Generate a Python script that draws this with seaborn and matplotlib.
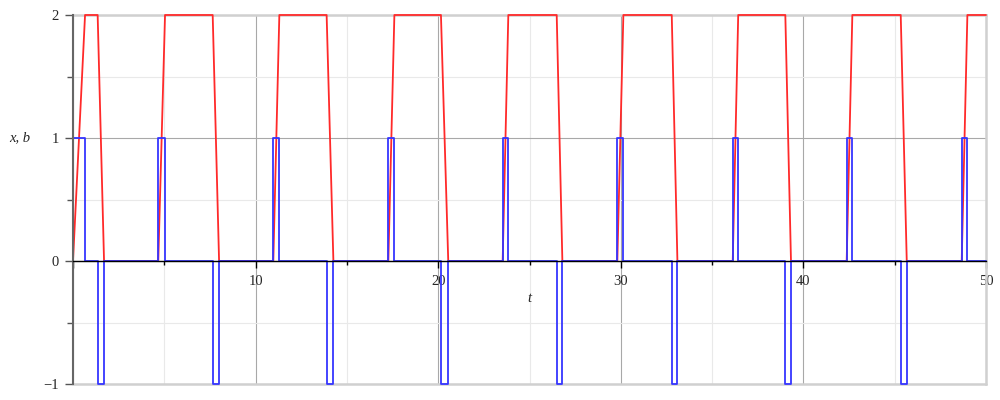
import matplotlib
matplotlib.use("Agg")
import matplotlib.pyplot as plt
from matplotlib.ticker import MultipleLocator, FuncFormatter
import pandas as pd
import seaborn as sns

# ---- data (times in t units) ----
up_start = [0.00, 4.67, 10.97, 17.27, 23.53, 29.81, 36.13, 42.37, 48.67]
up_end = [0.66, 5.04, 11.30, 17.60, 23.84, 30.14, 36.43, 42.68, 48.98]
down_start = [1.35, 7.65, 13.89, 20.15, 26.49, 32.79, 39.01, 45.33]
down_end = [1.70, 8.00, 14.26, 20.55, 26.80, 33.10, 39.32, 45.66]
x_low, x_high = 0, 2
b_up, b_rest, b_down = 1, 0, -1
t_end = 50

# ---- build series ----
events = [(s, e, "up") for s, e in zip(up_start, up_end)] + \
         [(s, e, "down") for s, e in zip(down_start, down_end)]
events.sort()

bt, bv = [], []
xt, xv = [], []
for s, e, kind in events:
    lvl = b_up if kind == "up" else b_down
    bt += [s, s, e, e]
    bv += [b_rest, lvl, lvl, b_rest]
    if kind == "up":
        xt += [s, e]
        xv += [x_low, x_high]
    else:
        xt += [s, e]
        xv += [x_high, x_low]
bt.append(t_end); bv.append(b_rest)
xt.append(t_end); xv.append(x_high)

df_x = pd.DataFrame({"t": xt, "v": xv})
df_b = pd.DataFrame({"t": bt, "v": bv})

# ---- plot ----
sns.set_theme(style="white")
plt.rcParams["font.family"] = ["Liberation Serif", "DejaVu Serif"]

fig, ax = plt.subplots(figsize=(10, 4), dpi=100)
fig.subplots_adjust(left=0.073, right=0.986, bottom=0.04, top=0.9625)

sns.lineplot(data=df_x, x="t", y="v", sort=False, estimator=None,
             color="#ff2a2a", lw=1.3, ax=ax, zorder=3)
sns.lineplot(data=df_b, x="t", y="v", sort=False, estimator=None,
             color="#3535ff", lw=1.3, ax=ax, zorder=4)
for ln in ax.lines:
    ln.set_clip_on(False)

ax.set_xlim(0, t_end)
ax.set_ylim(-1, 2)

ax.xaxis.set_major_locator(MultipleLocator(10))
ax.xaxis.set_minor_locator(MultipleLocator(5))
ax.yaxis.set_major_locator(MultipleLocator(1))
ax.yaxis.set_minor_locator(MultipleLocator(0.5))
ax.xaxis.set_major_formatter(FuncFormatter(lambda v, p: "" if abs(v) < 1e-9 else f"{v:g}"))
ax.yaxis.set_major_formatter(FuncFormatter(lambda v, p: f"{v:g}".replace("-", "\u2212")))

ax.set_axisbelow(True)
ax.grid(which="major", color="#a8a8a8", lw=0.8)
ax.grid(which="minor", color="#e9e9e9", lw=0.8)

for side in ("top", "right"):
    ax.spines[side].set_color("#d0d0d0")
    ax.spines[side].set_linewidth(1.8)
ax.spines["left"].set_color("#666666")
ax.spines["left"].set_linewidth(1.5)
ax.spines["left"].set_zorder(5)
ax.spines["bottom"].set_position(("data", 0))
ax.spines["bottom"].set_color("black")
ax.spines["bottom"].set_linewidth(1.0)
ax.spines["bottom"].set_zorder(5)
ax.axhline(-1, color="#d0d0d0", lw=1.8, clip_on=False, zorder=1.5)

ax.tick_params(axis="x", which="both", bottom=True, direction="out",
               color="black", labelsize=10.5, pad=5, width=1)
ax.tick_params(axis="x", which="major", length=5)
ax.tick_params(axis="x", which="minor", length=3)
ax.tick_params(axis="y", which="both", left=True, direction="out",
               color="#555555", labelsize=10.5, pad=4, width=1)
ax.tick_params(axis="y", which="major", length=6)
ax.tick_params(axis="y", which="minor", length=4)

ax.set_xlabel("t", fontstyle="italic", fontsize=10.5)
ax.xaxis.label.set_va("center")
ax.xaxis.set_label_coords(0.5, 0.233)
ax.set_ylabel("x, b", fontstyle="italic", fontsize=10.5, rotation=0,
              ha="center", va="center")
ax.yaxis.set_label_coords(-0.058, 0.667)

fig.savefig("out.png", dpi=100)
